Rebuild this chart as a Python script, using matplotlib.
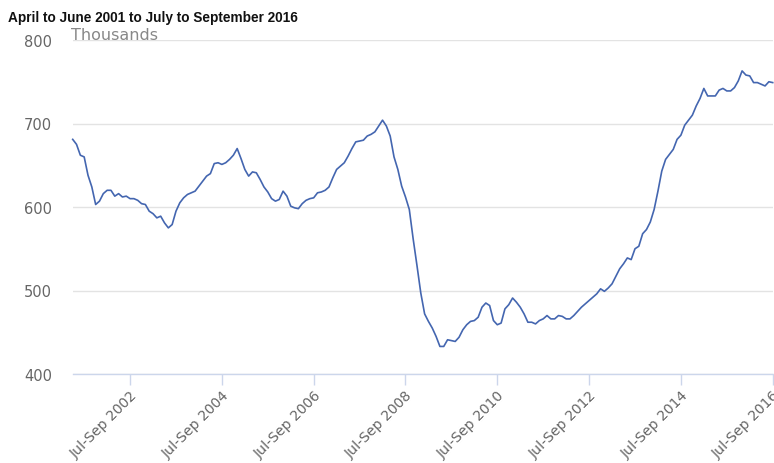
import matplotlib
matplotlib.use("Agg")
import matplotlib.pyplot as plt
import numpy as np

title = "April to June 2001 to July to September 2016"
unit_label = "Thousands"

# Monthly rolling quarters, Apr-Jun 2001 ... Jul-Sep 2016 (thousands)
values = [
    681, 675, 662, 660, 638, 624, 603, 607, 616, 620,
    620, 613, 616, 612, 613, 610, 610, 608, 604, 603,
    595, 592, 587, 589, 581, 575, 579, 595, 605, 611,
    615, 617, 619, 625, 631, 637, 640, 652, 653, 651,
    653, 657, 662, 670, 658, 645, 637, 642, 641, 633,
    624, 618, 610, 607, 609, 619, 613, 601, 599, 598,
    604, 608, 610, 611, 617, 618, 620, 624, 635, 645,
    649, 653, 661, 670, 678, 679, 680, 685, 687, 690,
    697, 704, 697, 685, 660, 645, 625, 612, 597, 562,
    530, 497, 472, 463, 455, 445, 433, 433, 441, 440,
    439, 444, 453, 459, 463, 464, 468, 480, 485, 482,
    464, 459, 461, 478, 483, 491, 486, 480, 472, 462,
    462, 460, 464, 466, 470, 466, 466, 470, 469, 466,
    466, 470, 475, 480, 484, 488, 492, 496, 502, 499,
    503, 508, 517, 526, 532, 539, 537, 550, 553, 568,
    573, 582, 597, 619, 643, 657, 663, 669, 681, 686,
    698, 704, 710, 721, 730, 742, 733, 733, 733, 740,
    742, 739, 739, 743, 751, 763, 758, 757, 749, 749,
    747, 745, 750, 749,
]

tick_positions = [15, 39, 63, 87, 111, 135, 159, 183]
tick_labels = ["Jul-Sep 2002", "Jul-Sep 2004", "Jul-Sep 2006", "Jul-Sep 2008",
               "Jul-Sep 2010", "Jul-Sep 2012", "Jul-Sep 2014", "Jul-Sep 2016"]
y_ticks = [400, 500, 600, 700, 800]

W, H = 774, 464
fig = plt.figure(figsize=(W / 100, H / 100), dpi=100)
left_px, right_px, top_px, bot_px = 72.7, 772.7, 41, 375
ax = fig.add_axes([left_px / W, 1 - bot_px / H, (right_px - left_px) / W, (bot_px - top_px) / H])

x = np.arange(len(values))
ax.plot(x, values, color="#4466b0", lw=1.2, clip_on=False, zorder=3)

ax.set_xlim(0, len(values) - 1)
ax.set_ylim(400, 800)
ax.set_yticks(y_ticks)
ax.set_yticklabels([str(v) for v in y_ticks])
ax.grid(axis="y", color="#e3e3e3", lw=1.0)
ax.set_axisbelow(True)

for s in ["top", "right", "left"]:
    ax.spines[s].set_visible(False)
ax.spines["bottom"].set_color("#ccd6eb")
ax.spines["bottom"].set_linewidth(1.0)

ax.set_xticks(tick_positions)
ax.set_xticklabels(tick_labels, rotation=45, ha="right", rotation_mode="anchor",
                   fontsize=10.1, color="#666666")
ax.tick_params(axis="x", length=8, color="#ccd6eb", width=1, pad=2)
ax.tick_params(axis="y", length=0, pad=15, labelsize=10.5, labelcolor="#666666")

fig.text(8 / W, 1 - 18 / H, title, fontsize=9.8, fontweight="bold",
         family="Liberation Sans", color="#111111", va="center", ha="left")
fig.text(71 / W, 1 - 35 / H, unit_label, fontsize=11.5, color="#888888",
         va="center", ha="left")

fig.savefig("out.png", dpi=100)
